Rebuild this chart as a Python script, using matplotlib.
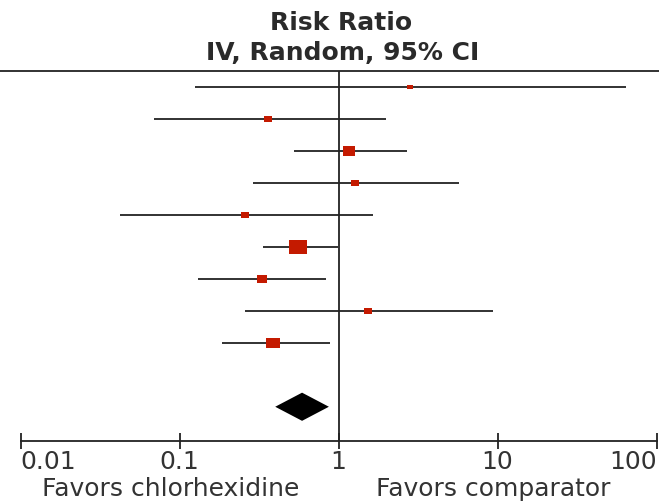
import numpy as np
import matplotlib
matplotlib.use("Agg")
import matplotlib.pyplot as plt
from matplotlib.lines import Line2D
from matplotlib.ticker import NullLocator

# study estimates (risk ratio, 95% CI)
rr = [2.81, 0.362, 1.17, 1.27, 0.26, 0.556, 0.328, 1.54, 0.39]
ci_low = [0.125, 0.069, 0.527, 0.292, 0.042, 0.333, 0.13, 0.26, 0.184]
ci_high = [64.2, 1.98, 2.71, 5.69, 1.64, 0.99, 0.84, 9.41, 0.88]
weights = [2.3, 6.3, 15.0, 4.8, 4.8, 32.7, 10.2, 6.3, 17.6]  # % weight

pooled = 0.59
pooled_low = 0.40
pooled_high = 0.87

tick_vals = [0.01, 0.1, 1, 10, 100]
tick_labels = ["0.01", "0.1", "1", "10", "100"]

W, H = 659, 501
fig = plt.figure(figsize=(W / 100, H / 100), dpi=100)
plt.rcParams["font.family"] = ["DejaVu Sans"]

ax_top, ax_bot = 70.7, 441
ax = fig.add_axes([20.5 / W, 1 - ax_bot / H, 636 / W, (ax_bot - ax_top) / H])
ax.set_xscale("log")
ax.set_xlim(0.01, 100)
ax.set_ylim(12.07, 0.5)

ink = "#222222"
red = "#c41a00"
rect = [(-1.35, -1), (1.35, -1), (1.35, 1), (-1.35, 1), (-1.35, -1)]

rows = np.arange(1, len(rr) + 1)
for y, est, lo, hi, w in zip(rows, rr, ci_low, ci_high, weights):
    ax.plot([lo, hi], [y, y], color=ink, lw=1.3, solid_capstyle="butt", zorder=2)
    side = 3.32 * np.sqrt(w) * 0.72
    ax.plot([est], [y], marker=rect, markersize=side, color=red, mec=red, mew=0, zorder=3)

# pooled estimate diamond
yd = len(rr) + 2
ax.fill([pooled_low, pooled, pooled_high, pooled], [yd, yd - 0.44, yd, yd + 0.44],
        color="black", lw=0, zorder=3)

ax.axvline(1, color=ink, lw=1.3, zorder=1)

for s in ["top", "left", "right"]:
    ax.spines[s].set_visible(False)
ax.spines["bottom"].set_color(ink)
ax.spines["bottom"].set_linewidth(1.3)
ax.set_yticks([])
ax.set_xticks(tick_vals)
ax.set_xticklabels(tick_labels)
ax.xaxis.set_minor_locator(NullLocator())
ax.tick_params(axis="x", direction="inout", length=11, width=1.3, color=ink,
               labelsize=18, labelcolor="#333333", pad=1)
labels = ax.get_xticklabels()
labels[0].set_horizontalalignment("left")
labels[-1].set_horizontalalignment("right")

# top rule across the whole panel
fig.add_artist(Line2D([0, 1], [1 - ax_top / H] * 2, transform=fig.transFigure,
                      color=ink, lw=1.3))

fig.text(341 / W, 1 - 23 / H, "Risk Ratio", ha="center", va="center",
         fontsize=18, fontweight="bold", color="#2a2a2a")
fig.text(343 / W, 1 - 53 / H, "IV, Random, 95% CI", ha="center", va="center",
         fontsize=18, fontweight="bold", color="#2a2a2a")

fig.text(171 / W, 1 - 489 / H, "Favors chlorhexidine", ha="center", va="center",
         fontsize=18, color="#333333")
fig.text(493 / W, 1 - 489 / H, "Favors comparator", ha="center", va="center",
         fontsize=18, color="#333333")

fig.savefig("out.png", dpi=100)
